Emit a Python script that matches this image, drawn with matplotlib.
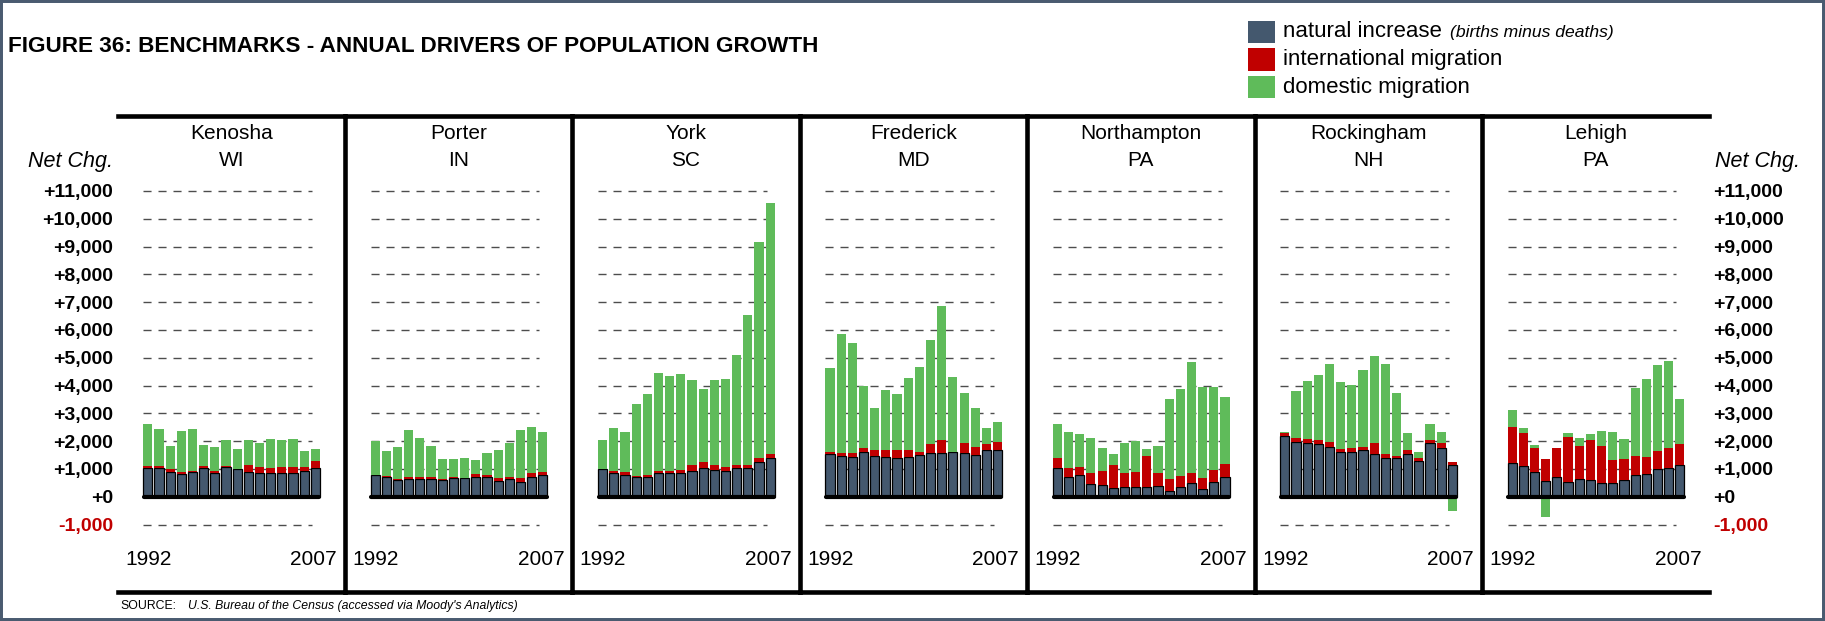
import matplotlib
matplotlib.use("Agg")
import matplotlib.pyplot as plt
from matplotlib.patches import Rectangle
import numpy as np

plt.rcParams['font.family'] = ['Liberation Sans', 'DejaVu Sans']

years = list(range(1992, 2008))
counties = ['Kenosha', 'Porter', 'York', 'Frederick', 'Northampton', 'Rockingham', 'Lehigh']
states = ['WI', 'IN', 'SC', 'MD', 'PA', 'NH', 'PA']

# annual components of net population change, 1992-2007
kenosha_nat = [1040, 1040, 900, 810, 900, 1040, 840, 1080, 990, 900, 860, 860, 860, 860, 920, 1040]
kenosha_intl = [70, 70, 100, 80, 30, 70, 100, 40, 20, 240, 220, 180, 220, 220, 160, 250]
kenosha_dom = [1500, 1330, 830, 1460, 1510, 740, 850, 920, 720, 900, 850, 1040, 960, 1010, 560, 420]

porter_nat = [780, 700, 610, 650, 650, 640, 610, 660, 660, 700, 700, 580, 620, 540, 710, 780]
porter_intl = [10, 60, 20, 70, 70, 80, 10, 60, 20, 130, 80, 110, 100, 140, 150, 120]
porter_dom = [1220, 900, 1140, 1680, 1390, 1100, 740, 630, 710, 490, 790, 990, 1210, 1710, 1640, 1420]

york_nat = [990, 860, 790, 700, 700, 840, 840, 860, 930, 1030, 960, 920, 1030, 1030, 1260, 1400]
york_intl = [10, 60, 100, 60, 80, 80, 80, 100, 200, 210, 180, 140, 110, 110, 140, 130]
york_dom = [1030, 1550, 1440, 2570, 2910, 3530, 3410, 3450, 3060, 2620, 3050, 3160, 3950, 5390, 7750, 9050]

frederick_nat = [1530, 1460, 1440, 1600, 1460, 1440, 1410, 1440, 1500, 1570, 1580, 1600, 1570, 1490, 1680, 1680]
frederick_intl = [70, 110, 130, 140, 220, 240, 260, 240, 110, 320, 460, 20, 360, 300, 220, 290]
frederick_dom = [3020, 4280, 3950, 2230, 1510, 2150, 2010, 2590, 3050, 3740, 4810, 2680, 1800, 1400, 580, 720]

northampton_nat = [1040, 720, 770, 470, 430, 320, 360, 360, 350, 400, 190, 350, 500, 280, 540, 720]
northampton_intl = [360, 310, 300, 380, 490, 820, 490, 530, 1110, 450, 440, 390, 350, 390, 420, 450]
northampton_dom = [1210, 1290, 1180, 1260, 830, 400, 1080, 1110, 250, 970, 2870, 3130, 3990, 3270, 2980, 2410]

rockingham_nat = [2180, 1980, 1940, 1890, 1800, 1620, 1620, 1680, 1520, 1410, 1380, 1530, 1290, 1920, 1750, 1150]
rockingham_intl = [120, 140, 140, 140, 170, 100, 130, 110, 410, 120, 80, 140, 100, 120, 180, 100]
rockingham_dom = [20, 1680, 2070, 2340, 2800, 2410, 2260, 2770, 3130, 3230, 2260, 610, 220, 580, 400, -500]

lehigh_nat = [1230, 1120, 900, 550, 710, 540, 620, 610, 510, 500, 610, 770, 830, 1000, 1040, 1140]
lehigh_intl = [1290, 1180, 860, 820, 1050, 1620, 1210, 1440, 1320, 830, 760, 700, 610, 660, 720, 760]
lehigh_dom = [610, 180, 110, -730, 0, 140, 290, 210, 540, 1000, 710, 2430, 2790, 3070, 3110, 1610]

natural = [kenosha_nat, porter_nat, york_nat, frederick_nat, northampton_nat, rockingham_nat, lehigh_nat]
international = [kenosha_intl, porter_intl, york_intl, frederick_intl, northampton_intl, rockingham_intl, lehigh_intl]
domestic = [kenosha_dom, porter_dom, york_dom, frederick_dom, northampton_dom, rockingham_dom, lehigh_dom]

grid_values = list(range(-1000, 12000, 1000))
grid_labels = [f"+{v:,}" if v >= 0 else f"{v:,}" for v in grid_values]

SLATE = '#44586E'
RED = '#C00000'
GREEN = '#5FBB5A'
BORDER = '#4A5B70'

# layout in pixels
W, H = 1825, 621
PANEL_X0 = 117.5
PANEL_W = 227.4
FRAME_TOP = 116
FRAME_BOT = 592
ZERO_PX = 496.7
PX_PER_UNIT = 27.8 / 1000
BAR_W = 0.82
BAR_L, BAR_R = 25.7, 202.5   # bar extent inside a panel


def fx(px):
    return px / W


def fy(py):
    return 1 - py / H


def frac(py):
    # vertical position inside a panel, axes fraction
    return (FRAME_BOT - py) / (FRAME_BOT - FRAME_TOP)


fig = plt.figure(figsize=(W / 100, H / 100), dpi=100)

pitch = (BAR_R - BAR_L) / (len(years) - 1 + BAR_W)
x_lo = -BAR_W / 2 - BAR_L / pitch
x_hi = len(years) - 1 + BAR_W / 2 + (PANEL_W - BAR_R) / pitch
y_hi = (ZERO_PX - FRAME_TOP) / PX_PER_UNIT
y_lo = (ZERO_PX - FRAME_BOT) / PX_PER_UNIT

x = np.arange(len(years))
for i in range(len(counties)):
    left = PANEL_X0 + i * PANEL_W
    ax = fig.add_axes([fx(left), fy(FRAME_BOT), PANEL_W / W, (FRAME_BOT - FRAME_TOP) / H])
    ax.set_xlim(x_lo, x_hi)
    ax.set_ylim(y_lo, y_hi)
    ax.patch.set_visible(False)
    ax.set_xticks([])
    for s in ax.spines.values():
        s.set_linewidth(3.3)
        s.set_color('black')
    ax.spines['right'].set_visible(False)
    ax.spines['left'].set_visible(i > 0)

    # dashed guide lines
    ax.hlines([v for v in grid_values if v != 0], -BAR_W / 2, len(years) - 1.3,
              colors='#4d4d4d', lw=1.0, linestyles=(0, (5.8, 5.0)), zorder=1)

    nat = np.array(natural[i])
    intl = np.array(international[i])
    dom = np.array(domestic[i])
    ax.bar(x, nat, BAR_W, color=SLATE, edgecolor='black', linewidth=0.9, zorder=3)
    ax.bar(x, intl, BAR_W, bottom=nat, color=RED, linewidth=0, zorder=3)
    dom_bottom = np.where(dom >= 0, nat + intl, 0)
    ax.bar(x, dom, BAR_W, bottom=dom_bottom, color=GREEN, linewidth=0, zorder=3)
    ax.plot([-0.33, len(years) - 0.67], [0, 0], color='black', lw=3.0,
            solid_capstyle='round', zorder=4)

    ax.text(0.5, frac(139), counties[i], transform=ax.transAxes,
            ha='center', va='baseline', fontsize=15)
    ax.text(0.5, frac(166), states[i], transform=ax.transAxes,
            ha='center', va='baseline', fontsize=15)
    ax.text(7.5 / PANEL_W, frac(565), str(years[0]), transform=ax.transAxes,
            ha='left', va='baseline', fontsize=15)
    ax.text(1 - 8 / PANEL_W, frac(565), str(years[-1]), transform=ax.transAxes,
            ha='right', va='baseline', fontsize=15)

    if i == 0 or i == len(counties) - 1:
        ax.set_yticks(grid_values)
        ax.set_yticklabels(grid_labels, fontweight='bold', fontsize=14)
        if i == 0:
            ax.tick_params(axis='y', length=0, pad=3.3)
        else:
            ax.yaxis.tick_right()
            ax.tick_params(axis='y', length=0, pad=2.5)
        ax.get_yticklabels()[0].set_color(RED)
    else:
        ax.set_yticks([])

fig.text(fx(112.5), fy(167), 'Net Chg.', ha='right', va='baseline', style='italic', fontsize=15.5)
fig.text(fx(1715), fy(167), 'Net Chg.', ha='left', va='baseline', style='italic', fontsize=15.5)

fig.text(fx(8), fy(52.3), 'FIGURE 36: BENCHMARKS - ANNUAL DRIVERS OF POPULATION GROWTH',
         ha='left', va='baseline', fontweight='bold', fontsize=16.2)

# legend
legend_items = [(SLATE, 'natural increase'), (RED, 'international migration'), (GREEN, 'domestic migration')]
for k, (col, lab) in enumerate(legend_items):
    top = 21 + k * 27.4
    fig.patches.append(Rectangle((fx(1248.3), fy(top + 22.3)), 26.7 / W, 22.3 / H,
                                 transform=fig.transFigure, facecolor=col, edgecolor='none'))
    fig.text(fx(1282.7), fy(37.3 + k * 28), lab, ha='left', va='baseline', fontsize=16)
fig.text(fx(1450), fy(37.3), '(births minus deaths)', ha='left', va='baseline',
         style='italic', fontsize=12.6)

fig.text(fx(120.5), fy(609), 'SOURCE:', ha='left', va='baseline', fontsize=8.8)
fig.text(fx(188), fy(609), "U.S. Bureau of the Census (accessed via Moody's Analytics)",
         ha='left', va='baseline', style='italic', fontsize=8.8)

# outer frame
fig.patches.append(Rectangle((0, 0), 1, 1, transform=fig.transFigure, fill=False,
                             edgecolor=BORDER, linewidth=4.3))

fig.savefig('out.png', dpi=100)
